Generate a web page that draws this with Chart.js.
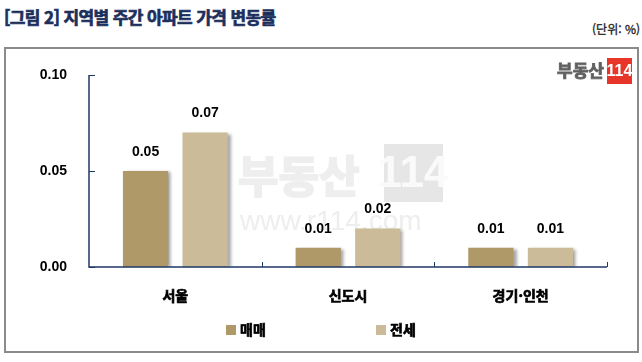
<!DOCTYPE html>
<html lang="ko">
<head>
    <meta charset="UTF-8">
    <title>지역별 주간 아파트 가격 변동률</title>
    <script src="https://cdn.jsdelivr.net/npm/chart.js"></script>
    <style>
        body {
            margin: 0;
            padding: 0;
            background: #ffffff;
            font-family: 'Noto Sans CJK KR', 'Liberation Sans', sans-serif;
        }
        .wrap {
            position: relative;
            width: 642px;
            height: 362px;
            overflow: hidden;
        }
        .title {
            position: absolute;
            left: 4px;
            top: 4px;
            font-size: 17px;
            font-weight: 700;
            color: #1b2f5c;
            letter-spacing: -0.6px;
            -webkit-text-stroke: 0.7px #1b2f5c;
        }
        .unit {
            position: absolute;
            right: 2px;
            top: 20px;
            font-size: 12px;
            color: #222;
            -webkit-text-stroke: 0.3px #222;
        }
        .box {
            position: absolute;
            left: 4px;
            top: 47px;
            width: 631px;
            height: 302px;
            border: 2px solid #8a8a8a;
        }
        #chartCanvas {
            position: absolute;
            left: 0;
            top: 0;
        }
    </style>
</head>
<body>
<div class="wrap">
    <div class="title">[그림 2] 지역별 주간 아파트 가격 변동률</div>
    <div class="unit">(단위: %)</div>
    <div class="box"></div>
    <canvas id="chartCanvas" width="642" height="362"></canvas>
</div>

<script>
    // 데이터
    const regions = ['서울', '신도시', '경기·인천'];
    const seriesNames = ['매매', '전세'];
    const saleValues = [0.05, 0.01, 0.01];
    const jeonseValues = [0.07, 0.02, 0.01];
    const yTicks = [0.00, 0.05, 0.10];

    const colors = ['#b09968', '#cbbb99'];
    const axisColor = '#1f3864';
    const numFont = 'bold 14px "Liberation Sans", Arial, sans-serif';

    // 워터마크 + 로고
    const watermarkPlugin = {
        id: 'watermark',
        beforeDatasetsDraw(chart) {
            const c = chart.ctx;
            c.save();
            c.fillStyle = '#eeeeee';
            c.strokeStyle = '#eeeeee';
            c.lineWidth = 2;
            c.font = 'bold 44px "Noto Sans CJK KR"';
            c.textBaseline = 'middle';
            c.textAlign = 'left';
            c.fillText('부동산', 238, 176);
            c.strokeText('부동산', 238, 176);
            c.fillStyle = '#e6e6e6';
            c.fillRect(384, 144, 59, 58);
            c.fillStyle = '#fafafa';
            c.font = 'bold 44px "Liberation Sans Narrow", "Liberation Sans"';
            c.textAlign = 'center';
            c.fillText('114', 413, 175);
            c.fillStyle = '#eeeeee';
            c.font = '28px "Liberation Sans"';
            c.textAlign = 'left';
            c.fillText('www.r114.com', 240, 222);
            c.restore();
        }
    };

    const logoPlugin = {
        id: 'logo',
        afterDraw(chart) {
            const c = chart.ctx;
            c.save();
            c.fillStyle = '#606060';
            c.strokeStyle = '#606060';
            c.lineWidth = 0.8;
            c.font = 'bold 17px "Noto Sans CJK KR"';
            c.textBaseline = 'middle';
            c.textAlign = 'right';
            c.fillText('부동산', 604, 71);
            c.strokeText('부동산', 604, 71);
            c.fillStyle = '#e8352a';
            c.fillRect(607, 58, 25, 26);
            c.fillStyle = '#ffffff';
            c.font = 'bold 16px "Liberation Sans Narrow", "Liberation Sans"';
            c.textAlign = 'center';
            c.fillText('114', 619.5, 72);
            c.restore();
        }
    };

    // 막대 그림자
    const shadowPlugin = {
        id: 'barShadow',
        beforeDatasetDraw(chart) {
            const c = chart.ctx;
            c.save();
            c.shadowColor = 'rgba(0,0,0,0.35)';
            c.shadowBlur = 3;
            c.shadowOffsetX = 3;
            c.shadowOffsetY = 1;
        },
        afterDatasetDraw(chart) {
            chart.ctx.restore();
        }
    };

    // 값 라벨, 축 안쪽 눈금, 범례
    const decorPlugin = {
        id: 'decor',
        afterDatasetsDraw(chart) {
            const c = chart.ctx;
            const area = chart.chartArea;
            const ys = chart.scales.y;
            c.save();

            // 축 선
            c.strokeStyle = axisColor;
            c.lineWidth = 1.5;
            c.beginPath();
            c.moveTo(area.left, ys.getPixelForValue(0.10));
            c.lineTo(area.left, ys.getPixelForValue(0));
            c.lineTo(area.right, ys.getPixelForValue(0));
            c.stroke();

            // y 눈금 (안쪽)
            c.lineWidth = 1;
            yTicks.forEach(v => {
                const y = Math.round(ys.getPixelForValue(v)) + 0.5;
                c.beginPath();
                c.moveTo(area.left, y);
                c.lineTo(area.left + 6, y);
                c.stroke();
            });

            // x 구분 눈금
            const base = ys.getPixelForValue(0);
            for (let i = 1; i <= regions.length; i++) {
                const x = Math.round(area.left + (area.right - area.left) * i / regions.length) + 0.5;
                c.beginPath();
                c.moveTo(x, base);
                c.lineTo(x, base - 5);
                c.stroke();
            }

            // 값 라벨
            c.fillStyle = '#000';
            c.font = numFont;
            c.textAlign = 'center';
            c.textBaseline = 'bottom';
            chart.data.datasets.forEach((ds, di) => {
                chart.getDatasetMeta(di).data.forEach((bar, i) => {
                    c.fillText(ds.data[i].toFixed(2), bar.x, bar.y - 12);
                });
            });

            // 범례
            const legendX = [226, 376];
            c.font = 'bold 14px "Noto Sans CJK KR"';
            c.textAlign = 'left';
            c.textBaseline = 'middle';
            c.lineWidth = 0.7;
            chart.data.datasets.forEach((ds, di) => {
                c.fillStyle = ds.backgroundColor;
                c.fillRect(legendX[di], 325, 10, 10);
                c.fillStyle = '#000';
                c.strokeStyle = '#000';
                c.fillText(ds.label, legendX[di] + 14, 330);
                c.strokeText(ds.label, legendX[di] + 14, 330);
            });

            c.restore();
        }
    };

    const ctx = document.getElementById('chartCanvas').getContext('2d');
    new Chart(ctx, {
        type: 'bar',
        data: {
            labels: regions,
            datasets: [
                { label: seriesNames[0], data: saleValues, backgroundColor: colors[0] },
                { label: seriesNames[1], data: jeonseValues, backgroundColor: colors[1] }
            ]
        },
        options: {
            responsive: false,
            animation: false,
            devicePixelRatio: 1,
            layout: { padding: { left: 0, right: 35, top: 75, bottom: 0 } },
            categoryPercentage: 0.69,
            barPercentage: 0.76,
            plugins: {
                legend: { display: false },
                tooltip: { enabled: false }
            },
            scales: {
                x: {
                    afterFit: s => { s.height = 95; },
                    grid: { display: false, drawTicks: false },
                    border: { display: false },
                    ticks: {
                        padding: 20,
                        color: '#000',
                        textStrokeColor: '#000',
                        textStrokeWidth: 0.7,
                        font: { family: '"Noto Sans CJK KR"', size: 14, weight: 'bold' }
                    }
                },
                y: {
                    min: 0,
                    max: 0.10,
                    afterFit: s => { s.width = 89; },
                    afterBuildTicks: s => { s.ticks = yTicks.map(v => ({ value: v })); },
                    grid: { display: false, drawTicks: false },
                    border: { display: false },
                    ticks: {
                        padding: 22,
                        color: '#000',
                        font: { family: '"Liberation Sans"', size: 14, weight: 'bold' },
                        callback: v => v.toFixed(2)
                    }
                }
            }
        },
        plugins: [watermarkPlugin, shadowPlugin, decorPlugin, logoPlugin]
    });
</script>
</body>
</html>
